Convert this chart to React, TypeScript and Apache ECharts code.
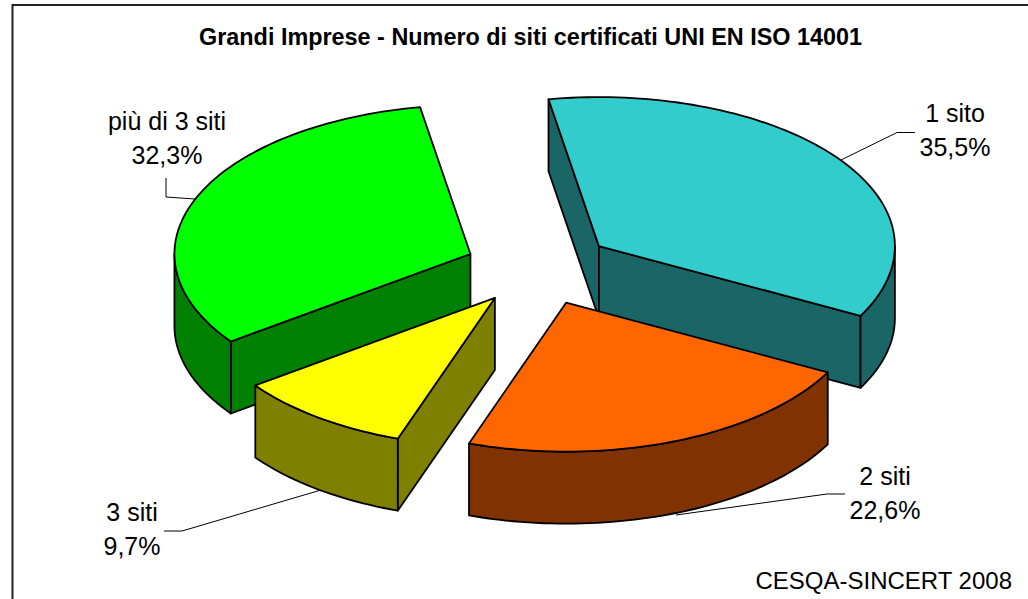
import React, { useEffect, useRef } from "react";
import * as echarts from "echarts";

// Data
const categories = ["1 sito", "2 siti", "3 siti", "più di 3 siti"];
const shares = [35.5, 22.6, 9.7, 32.3];
const topColors = ["#33CCCC", "#FF6600", "#FFFF00", "#00FF00"];
const wallColors = ["#1A6666", "#803300", "#808000", "#008000"];
const drawOrder = [3, 0, 1, 2];

const titleText = "Grandi Imprese - Numero di siti certificati UNI EN ISO 14001";
const sourceText = "CESQA-SINCERT 2008";

const FONT = '"Liberation Sans", Arial, sans-serif';

// Pie projection
const CX = 539;
const CY = 268;
const RX = 296;
const RY = 149;
const DEPTH = 72;
const EXPLODE = 0.25;
const START_DEG = -9.8;

const labelPlaces = [
  { x: 955, y: 130 },
  { x: 885, y: 493 },
  { x: 132, y: 529 },
  { x: 167, y: 138 },
];
const leaders = [
  [[841, 160], [897, 132.5], [915, 132.5]],
  [[676, 515], [827, 494], [845, 494]],
  [[321, 490], [182, 531], [164, 531]],
  [[195, 199], [166, 197], [166, 178]],
];

const fmt = (v: number) => v.toFixed(1).replace(".", ",") + "%";

function sliceAngles(i: number) {
  const total = shares.reduce((a, b) => a + b, 0);
  let acc = 0;
  for (let k = 0; k < i; k++) acc += shares[k];
  const a = START_DEG + (acc / total) * 360;
  const b = a + (shares[i] / total) * 360;
  return [a, b];
}

const onEllipse = (ox: number, oy: number, deg: number, dy = 0): number[] => {
  const t = (deg * Math.PI) / 180;
  return [ox + RX * Math.sin(t), oy - RY * Math.cos(t) + dy];
};

function arcPoints(ox: number, oy: number, a: number, b: number, dy = 0) {
  const n = Math.max(2, Math.ceil((b - a) / 1.5));
  const pts: number[][] = [];
  for (let k = 0; k <= n; k++) pts.push(onEllipse(ox, oy, a + ((b - a) * k) / n, dy));
  return pts;
}

const lineStyle = (fill: string) => ({
  fill,
  stroke: "#000",
  lineWidth: 1.8,
  lineJoin: "round",
});

function renderSlice(_p: any, api: any) {
  const i = drawOrder[api.value(0)];
  const [a, b] = sliceAngles(i);
  const mid = ((a + b) / 2) * (Math.PI / 180);
  const ox = CX + EXPLODE * RX * Math.sin(mid);
  const oy = CY - EXPLODE * RY * Math.cos(mid);
  const children: any[] = [];
  const top = [[ox, oy], ...arcPoints(ox, oy, a, b)];
  const wall = (points: number[][]) =>
    children.push({ type: "polygon", shape: { points }, style: lineStyle(wallColors[i]) });

  // Flat side walls facing the viewer
  const first = onEllipse(ox, oy, a);
  const last = onEllipse(ox, oy, b);
  if (first[0] < ox) wall([[ox, oy], first, [first[0], first[1] + DEPTH], [ox, oy + DEPTH]]);
  if (ox < last[0]) wall([last, [ox, oy], [ox, oy + DEPTH], [last[0], last[1] + DEPTH]]);

  // Rim
  const ra = Math.max(a, 90);
  const rb = Math.min(b, 270);
  if (rb > ra) {
    wall([...arcPoints(ox, oy, ra, rb), ...arcPoints(ox, oy, ra, rb, DEPTH).reverse()]);
  }
  children.push({ type: "polygon", shape: { points: top }, style: lineStyle(topColors[i]) });
  return { type: "group", children };
}

function renderLeader(_p: any, api: any) {
  const pts = leaders[api.value(0)];
  return {
    type: "polyline",
    shape: { points: pts },
    style: { fill: "none", stroke: "#000", lineWidth: 1 },
  };
}

export default function App() {
  const ref = useRef<HTMLDivElement>(null);
  useEffect(() => {
    const chart = echarts.init(ref.current!, null, { renderer: "svg" });
    const text = (x: number, y: number, t: string, style: any) => ({
      type: "text",
      x,
      y,
      z: 10,
      style: { text: t, fill: "#000", fontFamily: FONT, ...style },
    });
    chart.setOption({
      animation: false,
      backgroundColor: "#fff",
      graphic: [
        {
          type: "rect",
          z: 0,
          shape: { x: 12.5, y: 5, width: 1100, height: 800 },
          style: { fill: "#fff", stroke: "#222", lineWidth: 2 },
        },
        text(530.5, 37, titleText, {
          fontSize: 23.4,
          fontWeight: "bold",
          textAlign: "center",
          textVerticalAlign: "middle",
        }),
        text(1012, 580, sourceText, {
          fontSize: 24,
          textAlign: "right",
          textVerticalAlign: "middle",
        }),
        ...categories.map((c, i) =>
          text(labelPlaces[i].x, labelPlaces[i].y, `${c}\n${fmt(shares[i])}`, {
            fontSize: 25,
            lineHeight: 34,
            textAlign: "center",
            textVerticalAlign: "middle",
          })
        ),
      ],
      series: [
        {
          type: "custom",
          coordinateSystem: "none",
          silent: true,
          z: 5,
          data: leaders.map((_, i) => [i]),
          renderItem: renderLeader,
        },
        {
          type: "custom",
          coordinateSystem: "none",
          silent: true,
          z: 6,
          data: drawOrder.map((_, i) => [i, shares[drawOrder[i]]]),
          renderItem: renderSlice,
        },
      ],
    });
    return () => chart.dispose();
  }, []);
  return <div ref={ref} style={{ position: "fixed", left: 0, top: 0, width: 1028, height: 599 }} />;
}
